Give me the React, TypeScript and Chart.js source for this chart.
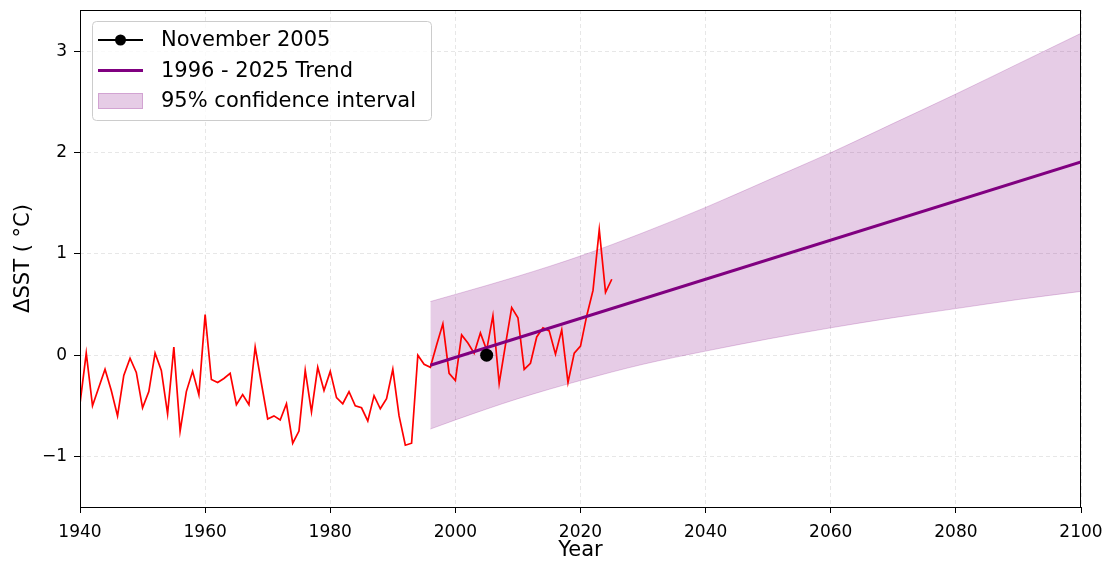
import { useEffect, useRef } from 'react';
import { Chart, registerables } from 'chart.js';

Chart.register(...registerables);

// Annual sea-surface temperature anomaly, one value per year starting at FIRST_YEAR
const FIRST_YEAR = 1940;
const sstAnomaly = [
  -0.48, 0.02, -0.5, -0.32, -0.14, -0.35, -0.6, -0.2, -0.03, -0.17,
  -0.52, -0.36, 0.02, -0.15, -0.58, 0.08, -0.75, -0.36, -0.16, -0.39,
  0.4, -0.24, -0.27, -0.23, -0.18, -0.49, -0.39, -0.49, 0.08, -0.28,
  -0.63, -0.6, -0.64, -0.48, -0.87, -0.75, -0.15, -0.56, -0.12, -0.35,
  -0.16, -0.42, -0.48, -0.36, -0.5, -0.52, -0.65, -0.4, -0.53, -0.43,
  -0.14, -0.6, -0.89, -0.87, 0.0, -0.09, -0.12, 0.1, 0.31, -0.18,
  -0.25, 0.2, 0.12, 0.02, 0.22, 0.05, 0.39, -0.28, 0.1, 0.47,
  0.37, -0.14, -0.08, 0.18, 0.27, 0.24, 0.01, 0.25, -0.27, 0.02,
  0.09, 0.39, 0.64, 1.24, 0.62, 0.75,
];

// 1996-2025 linear trend, extended to 2100
const trendYears = [1996, 2100];
const trendValues = [-0.1, 1.91];

// 95% confidence band around the trend
const bandYears = [1996, 2000, 2010, 2020, 2030, 2040, 2050, 2060, 2070, 2080, 2090, 2100];
const bandUpper = [0.53, 0.6, 0.78, 0.98, 1.21, 1.46, 1.73, 2.0, 2.29, 2.58, 2.88, 3.18];
const bandLower = [-0.73, -0.64, -0.43, -0.25, -0.09, 0.04, 0.16, 0.27, 0.37, 0.46, 0.55, 0.63];

// Highlighted month
const markerYear = [2005];
const markerValue = [0.0];

const xTicks = [1940, 1960, 1980, 2000, 2020, 2040, 2060, 2080, 2100];
const yTicks = [-1, 0, 1, 2, 3];

const legendLabels = ['November 2005', '1996 - 2025 Trend', '95% confidence interval'];
const xTitle = 'Year';
const yTitle = 'ΔSST ( °C)';

const FONT = "'DejaVu Sans', sans-serif";
const PURPLE = '#800080';
const BAND_FILL = 'rgba(128, 0, 128, 0.2)';
const GRID = 'rgba(176, 176, 176, 0.3)';

const zip = (xs: number[], ys: number[]) => xs.map((x, i) => ({ x, y: ys[i] }));

// Frame, axis titles and the boxed legend inside the plot
const decorPlugin = {
  id: 'decor',
  afterDraw(chart: any) {
    const { ctx, chartArea: a } = chart;
    ctx.save();

    // frame
    ctx.strokeStyle = '#000';
    ctx.lineWidth = 1;
    ctx.strokeRect(a.left + 0.5, a.top + 0.5, a.right - a.left - 1, a.bottom - a.top);

    // axis titles
    ctx.fillStyle = '#000';
    ctx.font = `21px ${FONT}`;
    ctx.textAlign = 'center';
    ctx.textBaseline = 'middle';
    ctx.fillText(xTitle, (a.left + a.right) / 2, 551);
    ctx.save();
    ctx.translate(24, (a.top + a.bottom) / 2);
    ctx.rotate(-Math.PI / 2);
    ctx.fillText(yTitle, 0, 0);
    ctx.restore();

    // legend box
    const lx = a.left + 12;
    const ly = a.top + 11;
    const lw = 339;
    const lh = 99;
    ctx.beginPath();
    ctx.roundRect(lx + 0.5, ly + 0.5, lw, lh, 4);
    ctx.fillStyle = 'rgba(255,255,255,0.8)';
    ctx.fill();
    ctx.strokeStyle = '#cccccc';
    ctx.stroke();

    const hx0 = lx + 6;
    const hx1 = lx + 51;
    const rows = [ly + 19, ly + 49.5, ly + 80];

    // marker entry
    ctx.strokeStyle = '#000';
    ctx.lineWidth = 2;
    ctx.beginPath();
    ctx.moveTo(hx0, rows[0]);
    ctx.lineTo(hx1, rows[0]);
    ctx.stroke();
    ctx.fillStyle = '#000';
    ctx.beginPath();
    ctx.arc((hx0 + hx1) / 2, rows[0], 5.5, 0, Math.PI * 2);
    ctx.fill();

    // trend entry
    ctx.strokeStyle = PURPLE;
    ctx.lineWidth = 3;
    ctx.beginPath();
    ctx.moveTo(hx0, rows[1]);
    ctx.lineTo(hx1, rows[1]);
    ctx.stroke();

    // band entry
    ctx.fillStyle = BAND_FILL;
    ctx.fillRect(hx0, rows[2] - 8, hx1 - hx0, 16);
    ctx.strokeStyle = BAND_FILL;
    ctx.lineWidth = 1;
    ctx.strokeRect(hx0 + 0.5, rows[2] - 7.5, hx1 - hx0 - 1, 15);

    ctx.fillStyle = '#000';
    ctx.font = `21px ${FONT}`;
    ctx.textAlign = 'left';
    ctx.textBaseline = 'middle';
    legendLabels.forEach((t, i) => ctx.fillText(t, lx + 69, rows[i] + 1));

    ctx.restore();
  },
};

export default function App() {
  const canvasRef = useRef<HTMLCanvasElement | null>(null);

  useEffect(() => {
    document.body.style.margin = '0';
    const canvas = canvasRef.current;
    if (!canvas) return;

    const sstPoints = sstAnomaly.map((y, i) => ({ x: FIRST_YEAR + i, y }));

    const chart = new Chart(canvas, {
      type: 'line',
      data: {
        datasets: [
          {
            label: legendLabels[0],
            data: zip(markerYear, markerValue),
            showLine: false,
            pointRadius: 6.5,
            pointBackgroundColor: '#000',
            pointBorderWidth: 0,
            order: 0,
          },
          {
            label: legendLabels[1],
            data: zip(trendYears, trendValues),
            borderColor: PURPLE,
            borderWidth: 3,
            pointRadius: 0,
            fill: false,
            order: 1,
          },
          {
            label: 'SST',
            data: sstPoints,
            borderColor: '#ff0000',
            borderWidth: 1.7,
            pointRadius: 0,
            fill: false,
            order: 2,
          },
          {
            label: 'lower',
            data: zip(bandYears, bandLower),
            borderColor: BAND_FILL,
            borderWidth: 1,
            pointRadius: 0,
            cubicInterpolationMode: 'monotone',
            fill: false,
            order: 3,
          },
          {
            label: legendLabels[2],
            data: zip(bandYears, bandUpper),
            borderColor: BAND_FILL,
            backgroundColor: BAND_FILL,
            borderWidth: 1,
            pointRadius: 0,
            cubicInterpolationMode: 'monotone',
            fill: 3,
            order: 4,
          },
        ],
      },
      options: {
        animation: false,
        responsive: false,
        devicePixelRatio: 1,
        layout: { padding: { left: 0, top: 10, right: 27, bottom: 0 } },
        plugins: {
          legend: { display: false },
          tooltip: { enabled: false },
          filler: { propagate: false },
        },
        scales: {
          x: {
            type: 'linear',
            min: 1940,
            max: 2100,
            afterBuildTicks: (s: any) => {
              s.ticks = xTicks.map((value) => ({ value }));
            },
            afterFit: (s: any) => {
              s.height = 56;
              s.paddingLeft = 0;
              s.paddingRight = 0;
            },
            ticks: {
              color: '#000',
              font: { family: FONT, size: 17 },
              padding: 9,
              maxRotation: 0,
              callback: (v: any) => String(v),
            },
            grid: {
              color: GRID,
              lineWidth: 1,
              tickColor: '#000',
              tickLength: 6,
              tickWidth: 1,
            },
            border: { display: false, dash: [4, 3] },
          },
          y: {
            type: 'linear',
            min: -1.5,
            max: 3.41,
            afterBuildTicks: (s: any) => {
              s.ticks = yTicks.map((value) => ({ value }));
            },
            afterFit: (s: any) => {
              s.width = 80;
              s.paddingTop = 0;
              s.paddingBottom = 0;
            },
            ticks: {
              color: '#000',
              font: { family: FONT, size: 17 },
              padding: 7,
              callback: (v: any) => String(v).replace('-', '\u2212'),
            },
            grid: {
              color: GRID,
              lineWidth: 1,
              tickColor: '#000',
              tickLength: 6,
              tickWidth: 1,
            },
            border: { display: false, dash: [4, 3] },
          },
        },
      },
      plugins: [decorPlugin],
    } as any);

    return () => chart.destroy();
  }, []);

  return (
    <div style={{ width: 1108, height: 563, background: '#fff' }}>
      <canvas ref={canvasRef} width={1108} height={563} />
    </div>
  );
}
